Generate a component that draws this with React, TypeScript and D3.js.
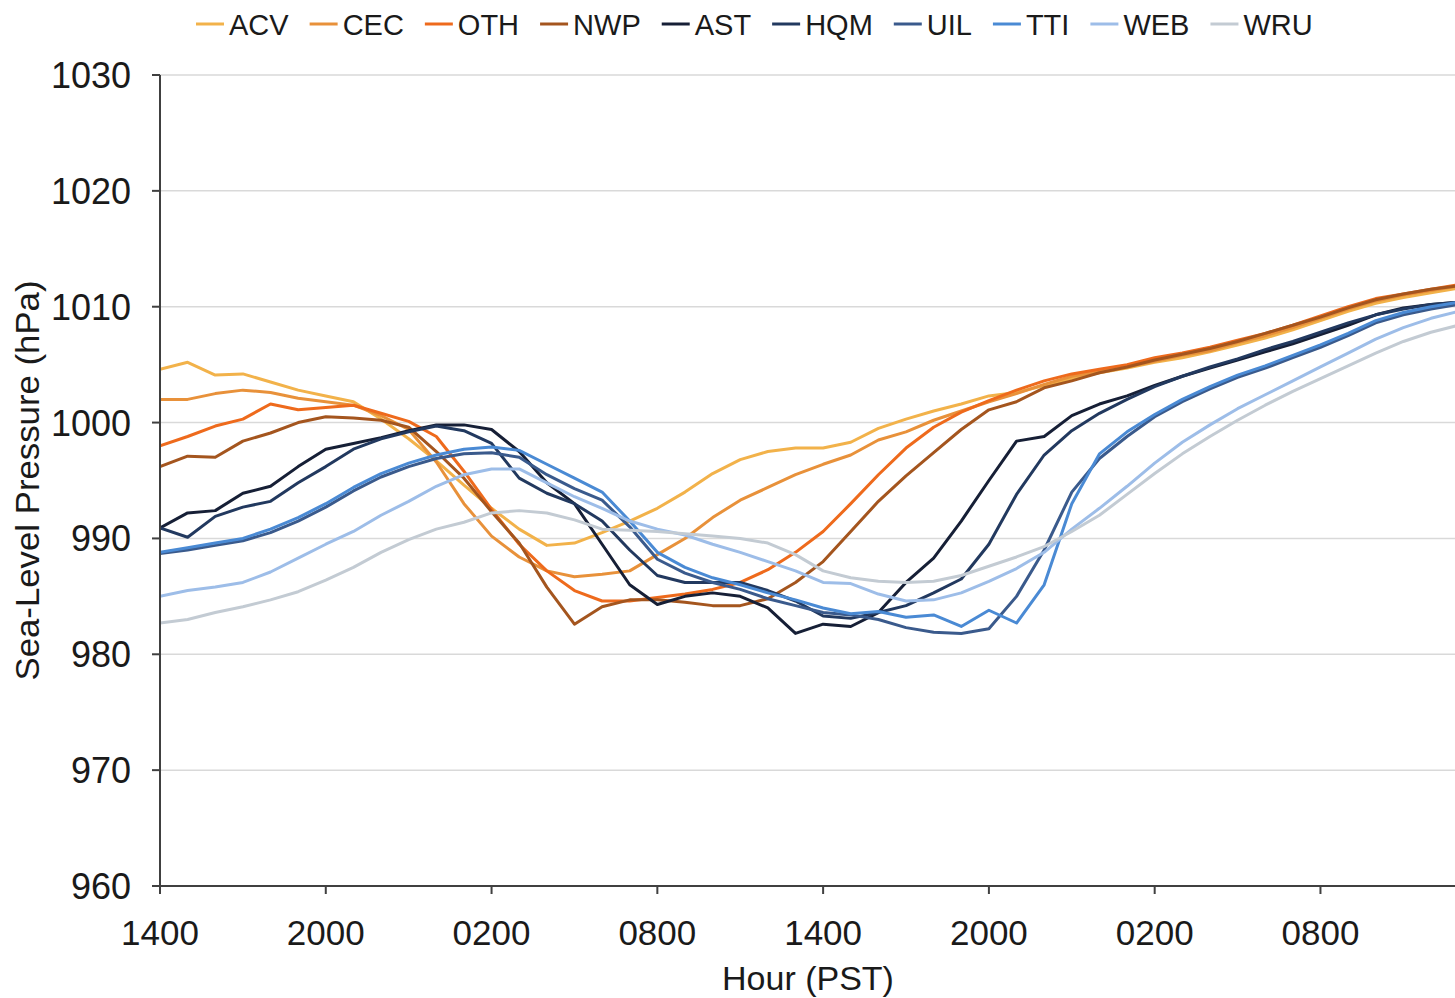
import React, { useMemo } from "react";
import * as d3 from "d3";

/* -------------------- data (hourly, starting 1400 PST) -------------------- */
const stations = ["ACV", "CEC", "OTH", "NWP", "AST", "HQM", "UIL", "TTI", "WEB", "WRU"];
const colors = ["#f2b24a", "#e8913a", "#ee6a1c", "#a4551e", "#161f36", "#22395f", "#3a5a8c", "#4a8ad4", "#9dbde8", "#c3cbd3"];

const xTickHours = [0, 6, 12, 18, 24, 30, 36, 42];
const xTickLabels = ["1400", "2000", "0200", "0800", "1400", "2000", "0200", "0800"];
const yTicks = [960, 970, 980, 990, 1000, 1010, 1020, 1030];

const ACV = [1004.6, 1005.2, 1004.1, 1004.2, 1003.5, 1002.8, 1002.3, 1001.8, 1000.3, 998.6,
  996.7, 994.6, 992.6, 990.8, 989.4, 989.6, 990.5, 991.5, 992.6, 994.0,
  995.6, 996.8, 997.5, 997.8, 997.8, 998.3, 999.5, 1000.3, 1001.0, 1001.6,
  1002.3, 1002.6, 1003.2, 1003.8, 1004.3, 1004.7, 1005.2, 1005.6, 1006.1, 1006.7,
  1007.3, 1008.0, 1008.8, 1009.6, 1010.3, 1010.8, 1011.2, 1011.6];
const CEC = [1002.0, 1002.0, 1002.5, 1002.8, 1002.6, 1002.1, 1001.8, 1001.5, 1000.6, 999.4,
  996.6, 993.0, 990.2, 988.4, 987.2, 986.7, 986.9, 987.2, 988.6, 990.0,
  991.8, 993.3, 994.4, 995.5, 996.4, 997.2, 998.5, 999.2, 1000.2, 1001.0,
  1001.8, 1002.5, 1003.3, 1004.0, 1004.4, 1004.8, 1005.3, 1005.8, 1006.2, 1006.9,
  1007.5, 1008.2, 1009.0, 1009.8, 1010.5, 1011.0, 1011.4, 1011.8];
const OTH = [998.0, 998.8, 999.7, 1000.3, 1001.6, 1001.1, 1001.3, 1001.5, 1000.8, 1000.1,
  998.8, 995.8, 992.5, 989.5, 987.2, 985.5, 984.6, 984.6, 984.9, 985.2,
  985.6, 986.2, 987.3, 988.8, 990.6, 993.0, 995.5, 997.8, 999.6, 1000.9,
  1001.9, 1002.8, 1003.6, 1004.2, 1004.6, 1005.0, 1005.6, 1006.0, 1006.5, 1007.1,
  1007.7, 1008.4, 1009.2, 1010.0, 1010.7, 1011.1, 1011.5, 1011.9];
const NWP = [996.2, 997.1, 997.0, 998.4, 999.1, 1000.0, 1000.5, 1000.4, 1000.2, 999.6,
  997.5, 995.2, 992.3, 989.6, 985.8, 982.6, 984.1, 984.7, 984.7, 984.5,
  984.2, 984.2, 984.8, 986.2, 988.0, 990.6, 993.2, 995.4, 997.4, 999.4,
  1001.1, 1001.8, 1003.0, 1003.6, 1004.3, 1004.8, 1005.4, 1005.9, 1006.4, 1007.0,
  1007.7, 1008.4, 1009.1, 1009.9, 1010.6, 1011.1, 1011.5, 1011.8];
const AST = [990.9, 992.2, 992.4, 993.9, 994.5, 996.2, 997.7, 998.2, 998.7, 999.3,
  999.8, 999.8, 999.4, 997.5, 994.8, 993.0, 989.5, 986.0, 984.3, 985.0,
  985.3, 985.0, 984.0, 981.8, 982.6, 982.4, 983.6, 986.2, 988.3, 991.5,
  995.0, 998.4, 998.8, 1000.6, 1001.6, 1002.3, 1003.2, 1004.0, 1004.7, 1005.4,
  1006.1, 1006.8, 1007.6, 1008.4, 1009.3, 1009.9, 1010.2, 1010.4];
const HQM = [990.9, 990.1, 991.9, 992.7, 993.2, 994.8, 996.2, 997.7, 998.6, 999.2,
  999.7, 999.3, 998.2, 995.2, 993.9, 993.0, 991.5, 989.0, 986.8, 986.2,
  986.2, 986.2, 985.5, 984.6, 983.3, 983.1, 983.6, 984.2, 985.3, 986.5,
  989.5, 993.8, 997.2, 999.3, 1000.8, 1002.0, 1003.1, 1004.0, 1004.8, 1005.5,
  1006.3, 1007.0, 1007.8, 1008.6, 1009.3, 1009.8, 1010.2, 1010.4];
const UIL = [988.7, 989.0, 989.4, 989.8, 990.5, 991.5, 992.7, 994.1, 995.3, 996.2,
  996.9, 997.3, 997.4, 997.0, 995.5, 994.3, 993.3, 991.0, 988.2, 987.0,
  986.2, 985.6, 984.8, 984.2, 983.6, 983.4, 983.0, 982.3, 981.9, 981.8,
  982.2, 985.0, 989.0, 994.0, 996.9, 998.8, 1000.5, 1001.8, 1002.9, 1003.9,
  1004.7, 1005.6, 1006.5, 1007.5, 1008.6, 1009.3, 1009.8, 1010.2];
const TTI = [988.8, 989.2, 989.6, 990.0, 990.8, 991.8, 993.0, 994.4, 995.6, 996.5,
  997.2, 997.7, 997.9, 997.6, 996.4, 995.2, 994.0, 991.5, 988.8, 987.5,
  986.6, 986.0, 985.3, 984.7, 984.0, 983.5, 983.7, 983.2, 983.4, 982.4,
  983.8, 982.7, 986.0, 993.0, 997.3, 999.2, 1000.7, 1002.0, 1003.1, 1004.1,
  1004.9, 1005.8, 1006.7, 1007.7, 1008.8, 1009.5, 1010.0, 1010.4];
const WEB = [985.0, 985.5, 985.8, 986.2, 987.1, 988.3, 989.5, 990.6, 992.0, 993.2,
  994.5, 995.5, 996.0, 996.0, 994.8, 993.6, 992.6, 991.5, 990.8, 990.3,
  989.5, 988.8, 988.0, 987.2, 986.2, 986.1, 985.2, 984.6, 984.7, 985.3,
  986.3, 987.4, 988.8, 990.8, 992.6, 994.5, 996.5, 998.3, 999.8, 1001.2,
  1002.4, 1003.6, 1004.8, 1006.0, 1007.2, 1008.2, 1009.0, 1009.6];
const WRU = [982.7, 983.0, 983.6, 984.1, 984.7, 985.4, 986.4, 987.5, 988.8, 989.9,
  990.8, 991.4, 992.2, 992.4, 992.2, 991.6, 990.8, 990.7, 990.6, 990.4,
  990.2, 990.0, 989.6, 988.6, 987.2, 986.6, 986.3, 986.2, 986.3, 986.8,
  987.6, 988.4, 989.3, 990.6, 992.0, 993.8, 995.6, 997.3, 998.8, 1000.2,
  1001.5, 1002.7, 1003.8, 1004.9, 1006.0, 1007.0, 1007.8, 1008.4];

const seriesValues = [ACV, CEC, OTH, NWP, AST, HQM, UIL, TTI, WEB, WRU];

const FONT = "'Liberation Sans', Arial, sans-serif";

export default function App() {
  const width = 1455;
  const height = 998;
  const margin = { top: 75, right: 0, bottom: 112, left: 160 };
  const plotBottom = height - margin.bottom; // 886

  const xScale = d3.scaleLinear().domain([0, 48]).range([margin.left, margin.left + 48 * 27.63]);
  const yScale = d3.scaleLinear().domain([960, 1030]).range([plotBottom, margin.top]);

  const line = d3.line<number>()
    .x((_, i) => xScale(i))
    .y(d => yScale(d));

  /* legend layout: measure label widths */
  const legendItems = useMemo(() => {
    const ctx = document.createElement("canvas").getContext("2d");
    if (ctx) ctx.font = `29px 'Liberation Sans', Arial, sans-serif`;
    let x = 196;
    return stations.map((s, i) => {
      const w = ctx ? ctx.measureText(s).width : s.length * 19;
      const item = { name: s, color: colors[i], x0: x, tx: x + 33 };
      x = x + 33 + w + 21;
      return item;
    });
  }, []);

  return (
    <svg width={width} height={height} style={{ position: "absolute", left: 0, top: 0, background: "#fff" }}
      fontFamily={FONT}>
      <defs>
        <clipPath id="plot">
          <rect x={margin.left} y={0} width={width - margin.left} height={plotBottom + 1} />
        </clipPath>
      </defs>

      {/* gridlines */}
      {yTicks.filter(t => t > 960).map(t => (
        <line key={t} x1={margin.left} x2={width} y1={yScale(t)} y2={yScale(t)} stroke="#d9d9d9" strokeWidth={1.5} />
      ))}

      {/* series */}
      <g clipPath="url(#plot)">
        {seriesValues.map((vals, i) => (
          <path key={stations[i]} d={line(vals) || ""} fill="none" stroke={colors[i]} strokeWidth={3}
            strokeLinejoin="round" strokeLinecap="round" />
        ))}
      </g>

      {/* y axis */}
      <line x1={margin.left} x2={margin.left} y1={margin.top} y2={plotBottom} stroke="#404040" strokeWidth={2} />
      {yTicks.map(t => (
        <g key={t} transform={`translate(${margin.left},${yScale(t)})`}>
          <line x1={-8} x2={0} stroke="#404040" strokeWidth={2} />
          <text x={-29} dy="0.36em" textAnchor="end" fontSize={36} fill="#1a1a1a">{t}</text>
        </g>
      ))}
      <text transform={`translate(39,${(margin.top + plotBottom) / 2}) rotate(-90)`} textAnchor="middle"
        fontSize={33} textLength={400} lengthAdjust="spacingAndGlyphs" fill="#1a1a1a">Sea-Level Pressure (hPa)</text>

      {/* x axis */}
      <line x1={margin.left} x2={width} y1={plotBottom} y2={plotBottom} stroke="#404040" strokeWidth={2} />
      {xTickHours.map((h, i) => (
        <g key={h} transform={`translate(${xScale(h)},${plotBottom})`}>
          <line y1={0} y2={8} stroke="#404040" strokeWidth={2} />
          <text y={59} textAnchor="middle" fontSize={35} fill="#1a1a1a">{xTickLabels[i]}</text>
        </g>
      ))}
      <text x={808} y={990} textAnchor="middle" fontSize={34} fill="#1a1a1a">Hour (PST)</text>

      {/* legend */}
      {legendItems.map(it => (
        <g key={it.name}>
          <line x1={it.x0} x2={it.x0 + 28} y1={24} y2={24} stroke={it.color} strokeWidth={3} />
          <text x={it.tx} y={35} fontSize={29} fill="#1a1a1a">{it.name}</text>
        </g>
      ))}
    </svg>
  );
}
